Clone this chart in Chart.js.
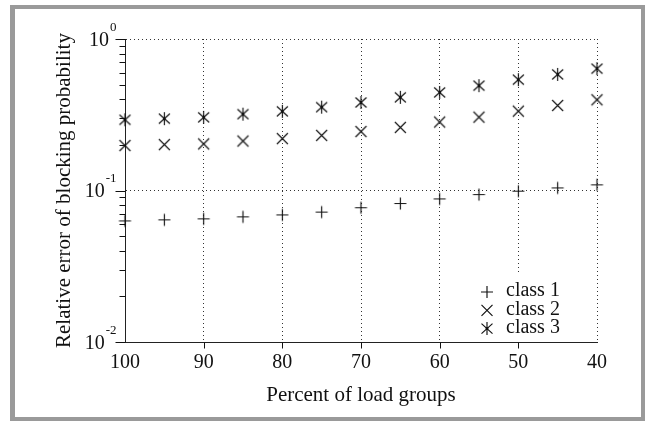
<!DOCTYPE html>
<html>
<head>
<meta charset="utf-8">
<title>Relative error of blocking probability</title>
<style>
  html, body { margin: 0; padding: 0; background: #fff; }
  #wrap { position: relative; width: 645px; height: 421px; overflow: hidden; }
  #frame {
    position: absolute; left: 10px; top: 5px; width: 635px; height: 416px;
    box-sizing: border-box; border: 4px solid #9a9a9a; border-left-width: 5px;
  }
  #chart { position: absolute; left: 0; top: 0; }
</style>
<script src="https://cdn.jsdelivr.net/npm/chart.js@4.4.1/dist/chart.umd.min.js"></script>
</head>
<body>
<div id="wrap">
  <div id="frame"></div>
  <canvas id="chart" width="645" height="421"></canvas>
</div>
<script>
// data
const loadPercent = [100, 95, 90, 85, 80, 75, 70, 65, 60, 55, 50, 45, 40]
const class1 = [0.063, 0.064, 0.065, 0.067, 0.069, 0.072, 0.077, 0.082, 0.088, 0.094, 0.099, 0.104, 0.109]
const class2 = [0.198, 0.201, 0.203, 0.212, 0.220, 0.231, 0.245, 0.261, 0.283, 0.305, 0.334, 0.364, 0.397]
const class3 = [0.293, 0.298, 0.304, 0.319, 0.333, 0.355, 0.381, 0.412, 0.444, 0.492, 0.539, 0.584, 0.637]
const seriesLabels = ['class 1', 'class 2', 'class 3']
const markerKinds = ['plus', 'cross', 'asterisk']
const xTicks = [100, 90, 80, 70, 60, 50, 40]
const yDecades = [1, 0.1, 0.01]
const yExponents = ['0', '-1', '-2']
const yMinorSteps = [1, 2, 3, 4, 5, 6, 7, 8, 9]

const SERIF = "'Liberation Serif', 'Times New Roman', serif"
const INK = '#111'

function isDecade(v) {
  const l = Math.log10(v)
  return Math.abs(l - Math.round(l)) < 1e-9
}

// marcas do eixo log: 1..9 em cada década, mais o topo
const yTickValues = [1].concat(
  yDecades.slice(1).flatMap(d => yMinorSteps.map(m => +(m * d).toPrecision(6)))
)

/**
 * Desenha um marcador estilo gnuplot (+, x, asterisco) centrado em cx, cy.
 */
function strokeMarker(ctx, kind, cx, cy) {
  ctx.save()
  ctx.strokeStyle = INK
  ctx.fillStyle = INK
  ctx.lineWidth = 1.15
  ctx.beginPath()
  if (kind === 'plus') {
    ctx.moveTo(cx - 6, cy); ctx.lineTo(cx + 6, cy)
    ctx.moveTo(cx, cy - 6); ctx.lineTo(cx, cy + 6)
  } else if (kind === 'cross') {
    ctx.moveTo(cx - 5.5, cy - 5.5); ctx.lineTo(cx + 5.5, cy + 5.5)
    ctx.moveTo(cx + 5.5, cy - 5.5); ctx.lineTo(cx - 5.5, cy + 5.5)
  } else {
    ctx.moveTo(cx - 5.5, cy - 5); ctx.lineTo(cx + 5.5, cy + 5)
    ctx.moveTo(cx + 5.5, cy - 5); ctx.lineTo(cx - 5.5, cy + 5)
    ctx.moveTo(cx, cy - 6.5); ctx.lineTo(cx, cy + 6.5)
  }
  ctx.stroke()
  if (kind === 'asterisk') {
    ctx.beginPath()
    ctx.arc(cx, cy, 1.4, 0, Math.PI * 2)
    ctx.fill()
  }
  ctx.restore()
}

function markerImage(kind) {
  const c = document.createElement('canvas')
  c.width = 15
  c.height = 15
  strokeMarker(c.getContext('2d'), kind, 7.5, 7.5)
  return c
}

// traços para fora dos eixos e rótulos 10^n do eixo y
const axisMarks = {
  id: 'axisMarks',
  afterDraw(chart) {
    const { ctx, scales: { x, y }, chartArea } = chart
    const left = Math.round(chartArea.left) + 0.5
    const bottom = Math.round(chartArea.bottom) + 0.5
    ctx.save()
    ctx.strokeStyle = INK
    ctx.lineWidth = 1
    ctx.beginPath()
    yTickValues.forEach(v => {
      const py = Math.round(y.getPixelForValue(v)) + 0.5
      ctx.moveTo(left - (isDecade(v) ? 10 : 6), py)
      ctx.lineTo(left, py)
    })
    xTicks.slice(1, -1).forEach(v => {
      const px = Math.round(x.getPixelForValue(v)) + 0.5
      ctx.moveTo(px, bottom)
      ctx.lineTo(px, bottom + 6)
    })
    ctx.stroke()

    ctx.fillStyle = INK
    ctx.textBaseline = 'alphabetic'
    ctx.textAlign = 'right'
    yDecades.forEach((v, i) => {
      const py = y.getPixelForValue(v)
      const right = chartArea.left - 8.5
      ctx.font = `13px ${SERIF}`
      const expW = ctx.measureText(yExponents[i]).width
      ctx.fillText(yExponents[i], right, py - 8.5)
      ctx.font = `20px ${SERIF}`
      ctx.fillText('10', right - expW - 1, py + 6.5)
    })
    ctx.restore()
  }
}

// legenda dentro da área do gráfico, canto inferior direito
const innerLegend = {
  id: 'innerLegend',
  afterDraw(chart) {
    const { ctx, chartArea } = chart
    ctx.save()
    ctx.fillStyle = '#fff'
    ctx.fillRect(chartArea.right - 122, chartArea.bottom - 68, 94, 66)
    ctx.font = `20px ${SERIF}`
    ctx.textAlign = 'left'
    ctx.textBaseline = 'middle'
    chart.data.datasets.forEach((ds, i) => {
      const rowY = chartArea.bottom - 50 + i * 18.3
      strokeMarker(ctx, markerKinds[i], chartArea.right - 110, rowY)
      ctx.fillStyle = INK
      ctx.fillText(ds.label, chartArea.right - 91, rowY - 1)
    })
    ctx.restore()
  }
}

const seriesValues = [class1, class2, class3]
const datasets = seriesValues.map((vals, i) => ({
  label: seriesLabels[i],
  data: vals.map((v, j) => ({ x: loadPercent[j], y: v })),
  pointStyle: markerImage(markerKinds[i]),
  pointRadius: 7,
  showLine: false,
  clip: false
}))

new Chart(document.getElementById('chart'), {
  type: 'scatter',
  data: { datasets },
  options: {
    responsive: false,
    animation: false,
    devicePixelRatio: 1,
    layout: { padding: { left: 0, top: 39, right: 48, bottom: 0 } },
    plugins: {
      legend: { display: false },
      tooltip: { enabled: false }
    },
    scales: {
      x: {
        type: 'linear',
        reverse: true,
        min: 40,
        max: 100,
        afterBuildTicks: s => { s.ticks = xTicks.map(value => ({ value })) },
        afterFit: s => { s.height = 79 },
        grid: { color: '#333', lineWidth: 1, drawTicks: false },
        border: { color: '#222', width: 1, dash: [1, 3] },
        ticks: {
          color: INK,
          font: { family: SERIF, size: 20 },
          padding: 9,
          maxRotation: 0,
          autoSkip: false
        },
        title: {
          display: true,
          text: 'Percent of load groups',
          color: INK,
          font: { family: SERIF, size: 21 },
          padding: { top: 0, bottom: 13 }
        }
      },
      y: {
        type: 'logarithmic',
        min: 0.01,
        max: 1,
        afterBuildTicks: s => { s.ticks = yTickValues.map(value => ({ value })) },
        afterFit: s => { s.width = 125 },
        grid: {
          color: c => (c.tick && isDecade(c.tick.value) ? '#333' : 'rgba(0,0,0,0)'),
          lineWidth: 1,
          drawTicks: false
        },
        border: { color: '#222', width: 1, dash: [1, 3] },
        ticks: { display: false, autoSkip: false },
        title: {
          display: true,
          text: 'Relative error of blocking probability',
          color: INK,
          font: { family: SERIF, size: 21 },
          padding: { top: 52, bottom: 0 }
        }
      }
    }
  },
  plugins: [axisMarks, innerLegend]
})
</script>
</body>
</html>
